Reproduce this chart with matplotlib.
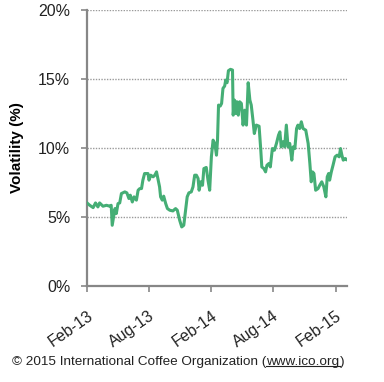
import pandas as pd
import numpy as np
import matplotlib
matplotlib.use('Agg')
import matplotlib.pyplot as plt
import matplotlib.dates as mdates
from matplotlib.lines import Line2D

plt.rcParams['font.family'] = ['Liberation Sans', 'DejaVu Sans']

# Days since 1 Feb 2013 and volatility (%)
start = pd.Timestamp('2013-02-01')
day_offset = [
    0, 8, 18, 25, 32, 37, 47, 57, 67, 71,
    74, 78, 82, 86, 91, 96, 101, 111, 117, 123,
    127, 133, 138, 145, 150, 155, 160, 164, 169, 179,
    182, 187, 194, 199, 204, 208, 213, 216, 221, 225,
    231, 236, 243, 252, 260, 265, 272, 278, 284, 288,
    294, 299, 306, 311, 316, 321, 326, 329, 334, 339,
    343, 350, 355, 360, 365, 370, 375, 380, 383, 386,
    391, 395, 399, 404, 407, 411, 415, 421, 427, 429,
    433, 436, 440, 444, 448, 453, 458, 463, 468, 473,
    478, 482, 487, 491, 497, 505, 510, 513, 519, 524,
    528, 534, 538, 544, 550, 556, 562, 566, 570, 575,
    580, 585, 590, 595, 601, 605, 610, 615, 619, 624,
    629, 634, 642, 649, 654, 658, 662, 666, 671, 678,
    683, 689, 695, 701, 705, 709, 712, 717, 722, 728,
    734, 740, 744, 748, 752, 758, 761,
]
volatility = [
    6.02, 5.85, 5.68, 6.02, 5.73, 6.02, 5.78, 5.85, 5.78, 5.85,
    4.40, 5.01, 5.61, 5.25, 5.97, 6.02, 6.70, 6.82, 6.75, 6.34,
    6.58, 6.09, 6.46, 6.22, 6.94, 7.06, 7.06, 7.67, 8.15, 8.15,
    7.67, 8.03, 7.91, 8.03, 8.27, 7.79, 7.18, 6.46, 6.22, 6.51,
    5.97, 5.61, 5.49, 5.44, 5.61, 5.49, 4.76, 4.28, 4.40, 5.25,
    6.46, 6.75, 6.82, 7.18, 8.03, 8.03, 7.79, 6.94, 7.55, 7.30,
    8.51, 8.59, 7.67, 6.94, 9.36, 10.57, 10.33, 9.48, 10.57, 13.11,
    13.04, 13.23, 14.32, 14.49, 14.92, 14.73, 15.60, 15.70, 15.65, 12.38,
    13.47, 12.50, 13.35, 12.38, 13.35, 13.23, 11.66, 12.74, 11.66, 14.73,
    13.47, 13.11, 12.02, 11.05, 11.66, 11.58, 9.84, 8.63, 8.51, 8.27,
    8.75, 8.88, 8.63, 9.96, 9.84, 10.33, 10.93, 11.17, 10.08, 10.45,
    10.08, 11.66, 10.08, 10.33, 9.12, 10.08, 9.96, 11.41, 11.66, 11.41,
    11.90, 11.41, 11.29, 10.33, 8.88, 7.55, 8.27, 8.15, 6.94, 7.06,
    7.30, 7.55, 7.18, 6.46, 7.91, 8.15, 7.67, 8.27, 8.75, 9.36,
    9.48, 9.36, 9.96, 9.48, 9.12, 9.24, 9.17,
]
tick_dates = ['2013-02-01', '2013-08-01', '2014-02-01', '2014-08-01', '2015-02-01']
tick_labels = ['Feb-13', 'Aug-13', 'Feb-14', 'Aug-14', 'Feb-15']
y_ticks = [0, 5, 10, 15, 20]

dates = start + pd.to_timedelta(day_offset, unit='D')

fig = plt.figure(figsize=(3.84, 3.82), dpi=100)
ax = fig.add_axes([87/384, 1 - 286/382, 260/384, 276/382])

grey = '#878787'
for v in y_ticks[1:]:
    ax.axhline(v, color='#9a9a9a', lw=1.0, ls=(0, (1, 1)), zorder=1)

ax.plot(dates, volatility, color='#45AE75', lw=2.2, zorder=3)

ax.set_xlim(start, start + pd.Timedelta(days=763))
ax.set_ylim(0, 20)
ax.set_yticks(y_ticks)
ax.set_yticklabels([f'{v}%' for v in y_ticks], fontsize=11.5, color='#222222')
ax.set_xticks(pd.to_datetime(tick_dates))
ax.set_xticklabels(tick_labels, fontsize=11.5, rotation=35, ha='right',
                   rotation_mode='anchor', color='#222222')
ax.set_ylabel('Volatility (%)', fontsize=11, fontweight='bold', labelpad=10)

for s in ['top', 'right']:
    ax.spines[s].set_visible(False)
for s in ['left', 'bottom']:
    ax.spines[s].set_color(grey)
    ax.spines[s].set_linewidth(1.6)
ax.tick_params(axis='both', color=grey, width=1.2, length=4)
ax.tick_params(axis='y', pad=8)
ax.tick_params(axis='x', pad=12)

# footer with underlined link
fig.canvas.draw()
renderer = fig.canvas.get_renderer()
fy = 1 - 362/382
fs = 9.7
t1 = fig.text(12/384, fy, '\u00a9 2015 International Coffee Organization (',
              fontsize=fs, va='center', ha='left', color='#222222')
bb = t1.get_window_extent(renderer).transformed(fig.transFigure.inverted())
t2 = fig.text(bb.x1, fy, 'www.ico.org', fontsize=fs, va='center', ha='left', color='#222222')
bb2 = t2.get_window_extent(renderer).transformed(fig.transFigure.inverted())
fig.text(bb2.x1, fy, ')', fontsize=fs, va='center', ha='left', color='#222222')
fig.add_artist(Line2D([bb2.x0, bb2.x1], [bb2.y0 + 0.004, bb2.y0 + 0.004],
                      color='#222222', lw=0.8, transform=fig.transFigure))

fig.savefig('out.png', dpi=100)
